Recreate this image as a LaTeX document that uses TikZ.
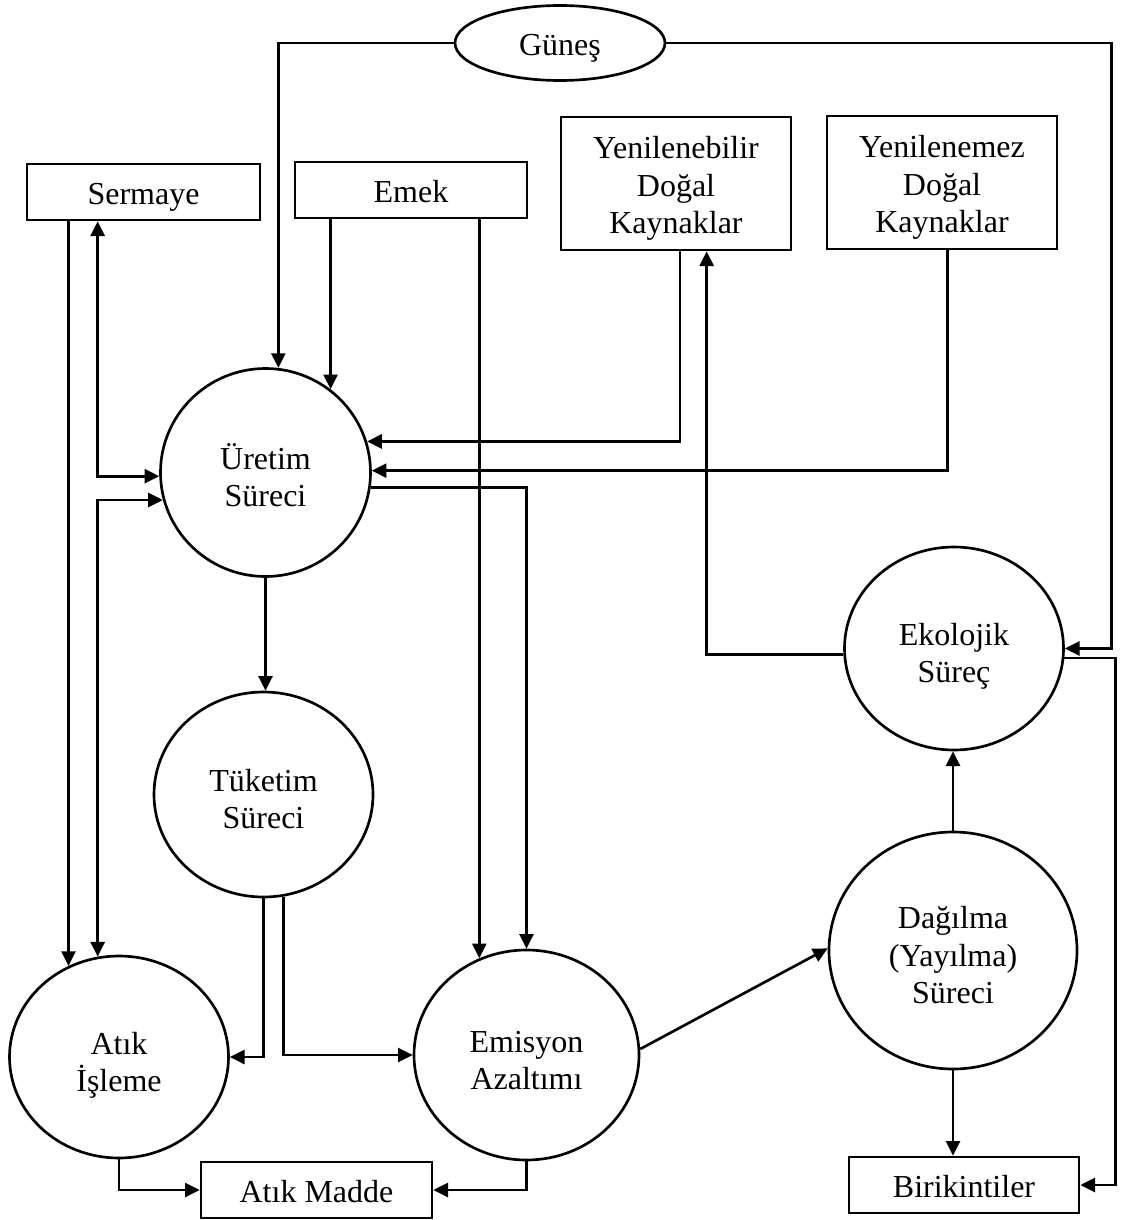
\documentclass[tikz,border=0pt]{standalone}
\usepackage{fontspec}
\setmainfont{Liberation Serif}
\usetikzlibrary{arrows.meta,shapes.geometric}

% fixed line metrics so every label sits at the same height in its shape
\newcommand\topstrut{\rule[-5.2pt]{0pt}{29.6pt}}
\newcommand\mtopstrut{\rule[-5.2pt]{0pt}{34.1pt}}
\newcommand\botstrut{\rule[-5.2pt]{0pt}{26.6pt}}

\begin{document}
\begin{tikzpicture}[x=0.75pt,y=-0.75pt,
  every node/.style={font=\fontsize{24}{28}\selectfont, align=center, inner sep=0pt,
    execute at end node=\botstrut},
  box/.style={draw, line width=2pt, rectangle},
  proc/.style={draw, line width=2pt, ellipse},
  link/.style={line width=2pt},
  arr/.style={link, -{Triangle[length=11pt,width=10.5pt]}},
  dbl/.style={link, {Triangle[length=11pt,width=10.5pt]}-{Triangle[length=11pt,width=10.5pt]}}]

\useasboundingbox (0,0) rectangle (1122,1220);

% sources
\node[proc, minimum width=157.5pt, minimum height=56.25pt] (sun) at (560,43) {\topstrut Güneş};
\node[box, minimum width=174.75pt, minimum height=42pt] (sermaye) at (143.5,192) {\topstrut Sermaye};
\node[box, minimum width=174pt, minimum height=42pt] (emek) at (411,190) {\topstrut Emek};
\node[box, minimum width=172.5pt, minimum height=99.75pt] (yenb) at (676,183.5) {\topstrut Yenilenebilir\\Doğal\\Kaynaklar};
\node[box, minimum width=172.5pt, minimum height=99.75pt] (yenm) at (942,182.5) {\topstrut Yenilenemez\\Doğal\\Kaynaklar};

% processes
\node[proc, minimum width=157.5pt, minimum height=156pt] (uretim) at (265.5,472.5) {\mtopstrut Üretim\\Süreci};
\node[proc, minimum width=164.25pt, minimum height=153.75pt] (tuketim) at (263.5,794.5) {\mtopstrut Tüketim\\Süreci};
\node[proc, minimum width=164.25pt, minimum height=152.25pt] (ekolojik) at (954,648.5) {\mtopstrut Ekolojik\\Süreç};
\node[proc, minimum width=186pt, minimum height=177.75pt] (dagilma) at (953,950.5) {\mtopstrut Dağılma\\(Yayılma)\\Süreci};
\node[proc, minimum width=164.25pt, minimum height=151.5pt] (atikis) at (119,1057) {\mtopstrut Atık\\İşleme};
\node[proc, minimum width=168.75pt, minimum height=157.5pt] (emisyon) at (526.5,1055) {\mtopstrut Emisyon\\Azaltımı};

% sinks
\node[box, minimum width=173.25pt, minimum height=42pt] (atikmadde) at (316.5,1190) {\topstrut Atık Madde};
\node[box, minimum width=172.5pt, minimum height=42pt] (birikintiler) at (964,1185) {\topstrut Birikintiler};

% sun
\draw[arr] (sun.west) -| (uretim.83);
\draw[arr] (sun.east) -| ([xshift=35pt]ekolojik.east) -- (ekolojik.east);

% labour
\draw[arr] (emek.south -| uretim.52) -- (uretim.52);
\draw[arr] (emek.south -| emisyon.116) -- (emisyon.116);

% capital
\draw[dbl] (sermaye.south -| atikis.102) |- (uretim.182);
\draw[dbl] (uretim.195) -| (atikis.102);
\draw[arr] (sermaye.south -| atikis.119) -- (atikis.119);

% natural resources
\draw[arr] ([xshift=3pt]yenb.south) |- (uretim.17);
\draw[arr] ([xshift=4pt]yenm.south) |- (uretim.1);
\draw[arr] (ekolojik.183) -| ([xshift=23pt]yenb.south);

% production and consumption
\draw[arr] (uretim.south) -- (uretim.south |- tuketim.north);
\draw[arr] (uretim.352) -| (emisyon.north);
\draw[arr] (tuketim.south) |- (atikis.east);
\draw[arr] (tuketim.281) |- (emisyon.west);

% emissions and ecology
\draw[arr] (emisyon.3) -- (dagilma.179);
\draw[arr] (dagilma.north) -- (dagilma.north |- ekolojik.south);
\draw[arr] (dagilma.south) -- (dagilma.south |- birikintiler.north);
\draw[arr] (ekolojik.355) -| ([xshift=26.25pt]birikintiler.east) -- (birikintiler.east);

% waste
\draw[arr] (atikis.south) |- (atikmadde.west);
\draw[arr] (emisyon.south) |- (atikmadde.east);

\end{tikzpicture}
\end{document}
